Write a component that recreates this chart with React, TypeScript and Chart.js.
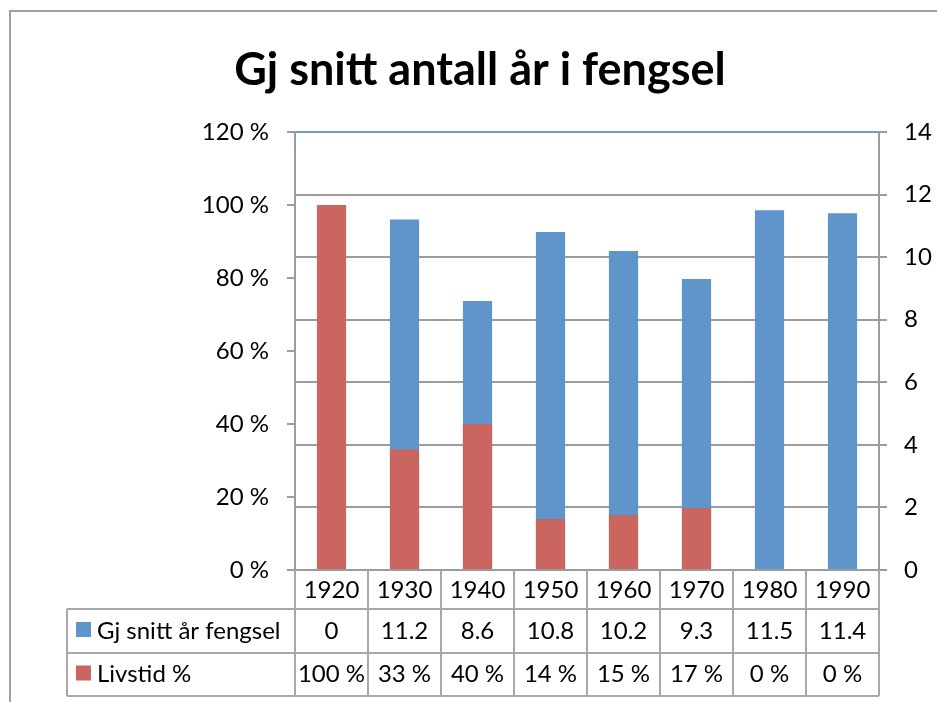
import React, { useEffect, useRef } from "react";
import { Chart, registerables } from "chart.js";

Chart.register(...registerables);

const TITLE = "Gj snitt antall år i fengsel";
const YEARS = ["1920", "1930", "1940", "1950", "1960", "1970", "1980", "1990"];
const AVG_YEARS = [0, 11.2, 8.6, 10.8, 10.2, 9.3, 11.5, 11.4];
const LIFE_PCT = [100, 33, 40, 14, 15, 17, 0, 0];
const SERIES_AVG = "Gj snitt år fengsel";
const SERIES_LIFE = "Livstid %";

const BLUE = "#5f95cb";
const RED = "#cb6560";
const GRID = "#9c9c9c";
const TABLE_LINE = "#a8a8a8";
const FONT = 'Lato, "Open Sans", sans-serif';

const extrasPlugin = {
  id: "extras",
  afterDraw(chart: any) {
    const ctx = chart.ctx as CanvasRenderingContext2D;
    const area = chart.chartArea;
    const xs = chart.scales.x;
    const n = YEARS.length;
    const colW = (xs.right - xs.left) / n;
    ctx.save();

    // frame
    ctx.strokeStyle = "#a0a0a0";
    ctx.lineWidth = 2;
    ctx.beginPath();
    ctx.moveTo(10, 702);
    ctx.lineTo(10, 11);
    ctx.lineTo(937, 11);
    ctx.stroke();

    // title
    ctx.fillStyle = "#000";
    ctx.font = `bold 45px ${FONT}`;
    ctx.textAlign = "center";
    ctx.textBaseline = "alphabetic";
    ctx.fillText(TITLE, 480, 85);

    // data table
    const top = area.bottom;
    const r1 = top + 39;
    const r2 = r1 + 44;
    const r3 = r2 + 43;
    const labelLeft = 67;
    ctx.strokeStyle = TABLE_LINE;
    ctx.lineWidth = 2;
    ctx.beginPath();
    [r1, r2, r3].forEach((y) => {
      ctx.moveTo(labelLeft, y);
      ctx.lineTo(xs.right, y);
    });
    ctx.moveTo(labelLeft, r1);
    ctx.lineTo(labelLeft, r3);
    for (let i = 0; i <= n; i++) {
      const x = xs.left + i * colW;
      ctx.moveTo(x, top);
      ctx.lineTo(x, r3);
    }
    ctx.stroke();

    ctx.font = `24px ${FONT}`;
    ctx.textBaseline = "middle";
    ctx.fillStyle = "#000";
    ctx.textAlign = "center";
    for (let i = 0; i < n; i++) {
      const cx = xs.getPixelForValue(i);
      ctx.fillText(YEARS[i], cx, (top + r1) / 2 + 1);
      ctx.fillText(String(AVG_YEARS[i]), cx, (r1 + r2) / 2);
      ctx.fillText(`${LIFE_PCT[i]} %`, cx, (r2 + r3) / 2);
    }
    // row labels with legend keys
    ctx.textAlign = "left";
    ctx.fillStyle = BLUE;
    ctx.fillRect(76, (r1 + r2) / 2 - 9, 15, 15);
    ctx.fillStyle = RED;
    ctx.fillRect(76, (r2 + r3) / 2 - 9, 15, 15);
    ctx.fillStyle = "#000";
    ctx.fillText(SERIES_AVG, 97, (r1 + r2) / 2);
    ctx.fillText(SERIES_LIFE, 97, (r2 + r3) / 2);
    ctx.restore();
  },
};

export default function App() {
  const ref = useRef<HTMLCanvasElement>(null);
  useEffect(() => {
    if (!ref.current) return;
    const chart = new Chart(ref.current, {
      type: "bar",
      data: {
        labels: YEARS,
        datasets: [
          {
            label: SERIES_LIFE,
            data: LIFE_PCT,
            backgroundColor: RED,
            yAxisID: "y",
            grouped: false,
            order: 0,
            barPercentage: 0.4,
            categoryPercentage: 1,
          } as any,
          {
            label: SERIES_AVG,
            data: AVG_YEARS,
            backgroundColor: BLUE,
            yAxisID: "y1",
            grouped: false,
            order: 1,
            barPercentage: 0.4,
            categoryPercentage: 1,
          } as any,
        ],
      },
      options: {
        responsive: false,
        animation: false,
        layout: { padding: { top: 132, left: 0, right: 0, bottom: 0 } },
        plugins: {
          legend: { display: false },
          title: { display: false },
          tooltip: { enabled: false },
        },
        scales: {
          x: {
            grid: { display: false },
            ticks: { display: false },
            border: { display: true, color: GRID, width: 2 },
            afterFit: (s: any) => {
              s.height = 132;
            },
          },
          y: {
            position: "left",
            min: 0,
            max: 120,
            ticks: {
              stepSize: 20,
              padding: 18,
              color: "#000",
              font: { family: FONT, size: 24 },
              callback: (v: any) => `${v} %`,
            },
            grid: { drawOnChartArea: false, tickLength: 8, color: GRID, lineWidth: 2 },
            border: { display: true, color: GRID, width: 2 },
            afterFit: (s: any) => {
              s.width = 295;
            },
          },
          y1: {
            position: "right",
            min: 0,
            max: 14,
            ticks: {
              stepSize: 2,
              padding: 17,
              color: "#000",
              font: { family: FONT, size: 24 },
            },
            grid: {
              drawOnChartArea: true,
              tickLength: 8,
              lineWidth: 2,
              color: (c: any) => (c.tick && c.tick.value === 14 ? "#6c9bd2" : GRID),
              tickColor: GRID,
            },
            border: { display: true, color: GRID, width: 2 },
            afterFit: (s: any) => {
              s.width = 58;
            },
          },
        },
      },
      plugins: [extrasPlugin],
    });
    return () => chart.destroy();
  }, []);
  return (
    <div style={{ position: "fixed", left: 0, top: 0, width: 937, height: 702, background: "#fff" }}>
      <canvas ref={ref} width={937} height={702} style={{ width: 937, height: 702, display: "block" }} />
    </div>
  );
}
